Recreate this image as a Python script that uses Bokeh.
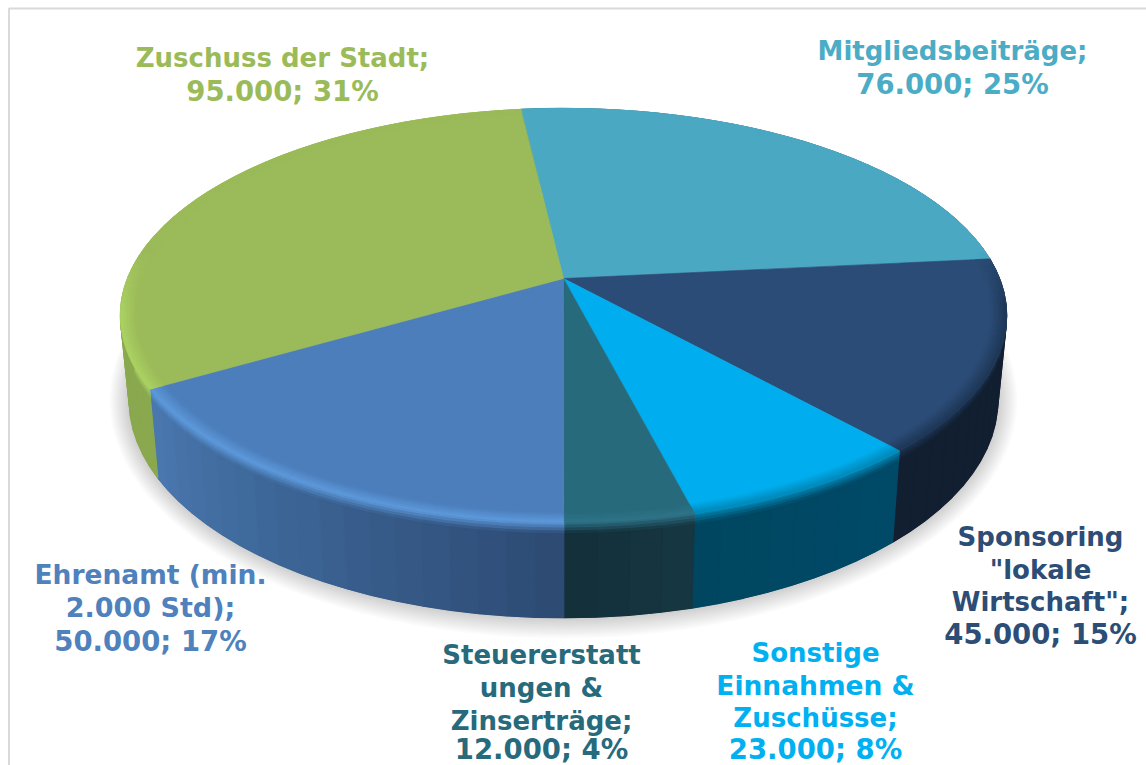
import numpy as np
from bokeh.plotting import figure
from bokeh.embed import file_html
from bokeh.resources import INLINE
from bokeh.core.properties import value

# ---- data ----
categories = ["Mitgliedsbeiträge", "Sponsoring \"lokale Wirtschaft\"", "Sonstige Einnahmen & Zuschüsse",
              "Steuererstattungen & Zinserträge", "Ehrenamt (min. 2.000 Std)", "Zuschuss der Stadt"]
amounts = [76000, 45000, 23000, 12000, 50000, 95000]
top_colors = ["#4BA8C3", "#2B4C76", "#00AEEF", "#276A7C", "#4C7EBB", "#9BBA59"]
rim_colors = ["#3a8aa0", "#1e3655", "#0088b8", "#2f7388", "#5E9ADC", "#ABD263"]
side_start = ["#2f6f80", "#121F31", "#004A68", "#163742", "#2D4A72", "#8AA84E"]
side_end = ["#2f6f80", "#121F31", "#004660", "#132F3A", "#4A78B0", "#8AA84E"]
label_lines = [["Mitgliedsbeiträge;", "76.000; 25%"],
               ["Sponsoring", "\"lokale", "Wirtschaft\";", "45.000; 15%"],
               ["Sonstige", "Einnahmen &", "Zuschüsse;", "23.000; 8%"],
               ["Steuererstatt", "ungen &", "Zinserträge;", "12.000; 4%"],
               ["Ehrenamt (min.", "2.000 Std);", "50.000; 17%"],
               ["Zuschuss der Stadt;", "95.000; 31%"]]
label_x = [952, 1040, 815, 541, 150, 282]
label_y = [[50, 83], [536, 569, 601, 633], [652, 685, 717, 748], [654, 687, 720, 748], [574, 607, 640], [57, 90]]
label_colors = ["#4BACC6", "#2C4D75", "#00B0F0", "#276A7C", "#4F81BD", "#9BBB59"]
font_px = [[26, 27.5], [26, 26, 26, 27.5], [26, 26.5, 26, 27.5], [26, 26, 26, 27.5], [26.5, 27, 27.5], [26, 27.5]]

# ---- projection of the disc ----
CX, CY = 563.0, 278.0
PERSP, KY, KX = 0.1787, 200.4, 436.0
START_DEG = -6.6


def top_xy(theta, r=1.0):
    u = r * np.sin(theta)
    v = -r * np.cos(theta)
    d = 1 - PERSP * v
    return CX + KX * u / d, CY + KY * v / d


def side_xy(theta, z):
    x, y = top_xy(theta)
    xb = CX + 0.98 * (x - CX)
    yb = 361 + 1.05 * (y - CY)
    return x + (xb - x) * z, y + (yb - y) * z


def hex2rgb(h):
    return np.array([int(h[i:i + 2], 16) for i in (1, 3, 5)], float)


def mix(a, b, t):
    t = min(max(t, 0.0), 1.0)
    c = hex2rgb(a) * (1 - t) + hex2rgb(b) * t
    return "#%02x%02x%02x" % tuple(int(round(q)) for q in c)


p = figure(width=1146, height=765, x_range=(0, 1146), y_range=(765, 0), output_backend="svg",
           toolbar_location=None, min_border=0, outline_line_color=None,
           background_fill_color="white", border_fill_color="white",
           styles={"position": "absolute", "left": "0", "top": "0"})
p.xaxis.visible = False
p.yaxis.visible = False
p.grid.visible = False

# frame
p.line([8.5, 8.5, 1146], [765, 8, 8], line_color="#DADADA", line_width=2)

# soft shadow
full = np.linspace(0, 2 * np.pi, 240)
bx, by = side_xy(full, 1.0)
for k in range(12, 0, -1):
    f = k / 12
    sx = 564 + (bx - 564) * (1 + 0.045 * f)
    sy = 400 + (by - 400) * (1 + 0.095 * f)
    p.patch(sx, sy, fill_color="#000000", fill_alpha=0.016, line_color=None)

fractions = np.array(amounts, float) / sum(amounts)
edges = np.radians(START_DEG) + np.concatenate([[0], np.cumsum(fractions)]) * 2 * np.pi

# side wall, strip by strip; each slice first gets one solid underlay so no seams show
BAND_Z = [0, 0.03, 0.06, 0.09, 0.12, 1.0]
for i in range(len(amounts)):
    th = np.linspace(edges[i], edges[i + 1], 80)
    x0, y0 = side_xy(th, 0.0)
    x1, y1 = side_xy(th[::-1], 1.0)
    c = mix(side_start[i], side_end[i], 0.5)
    p.patch(np.r_[x0, x1], np.r_[y0, y1], fill_color=c, line_color=c, line_width=0.5)

xs, ys, cols = [], [], []
for i in range(len(amounts)):
    n = max(4, int(fractions[i] * 120))
    th = np.linspace(edges[i], edges[i + 1], n + 1)
    for j in range(n):
        t = (j + 0.5) / n
        base = mix(side_start[i], side_end[i], t)
        if i == 4:  # middle stop of the lit wall
            base = mix(side_start[i], "#3C6596", t / 0.55) if t < 0.55 else mix("#3C6596", side_end[i], (t - 0.55) / 0.45)
        a, b = th[j], th[j + 1]
        for zi in range(len(BAND_Z) - 1):
            z0, z1 = BAND_Z[zi], BAND_Z[zi + 1]
            x0, y0 = side_xy(a, z0)
            x1, y1 = side_xy(b, z0)
            x2, y2 = side_xy(b, z1)
            x3, y3 = side_xy(a, z1)
            xs.append([x0, x1, x2, x3])
            ys.append([y0, y1, y2, y3])
            w = (zi + 0.5) / (len(BAND_Z) - 2) if zi < len(BAND_Z) - 2 else 1.0
            cols.append(mix(rim_colors[i], base, w))
p.patches(xs, ys, fill_color=cols, line_color=cols, line_width=1.3)

# top face
for i in range(len(amounts)):
    th = np.linspace(edges[i], edges[i + 1], 120)
    x, y = top_xy(th)
    p.patch(np.r_[CX, x], np.r_[CY, y], fill_color=top_colors[i], line_color=top_colors[i], line_width=0.6)

# bevel on the rim of the top face
RADII = np.linspace(0.965, 1.0, 7)
xs, ys, cols = [], [], []
for i in range(len(amounts)):
    n = max(4, int(fractions[i] * 200))
    th = np.linspace(edges[i], edges[i + 1], n + 1)
    for j in range(n):
        a, b = th[j], th[j + 1]
        fade = float(np.clip((-np.cos((a + b) / 2) + 0.15) / 0.3, 0, 1))
        for ri in range(len(RADII) - 1):
            r0, r1 = RADII[ri], RADII[ri + 1]
            x0, y0 = top_xy(a, r0)
            x1, y1 = top_xy(b, r0)
            x2, y2 = top_xy(b, r1)
            x3, y3 = top_xy(a, r1)
            xs.append([x0, x1, x2, x3])
            ys.append([y0, y1, y2, y3])
            cols.append(mix(top_colors[i], rim_colors[i], fade * (ri + 0.5) / (len(RADII) - 1)))
p.patches(xs, ys, fill_color=cols, line_color=cols, line_width=0.8)

# labels
for lines, lx, lys, col, sizes in zip(label_lines, label_x, label_y, label_colors, font_px):
    for line, ly, size in zip(lines, lys, sizes):
        p.text([lx], [ly], text=[line], text_color=col, text_font=value("DejaVu Sans"),
               text_font_style="bold", text_font_size=f"{size}px", text_align="center", text_baseline="middle")

open("out.html", "w").write(file_html(p, INLINE))
